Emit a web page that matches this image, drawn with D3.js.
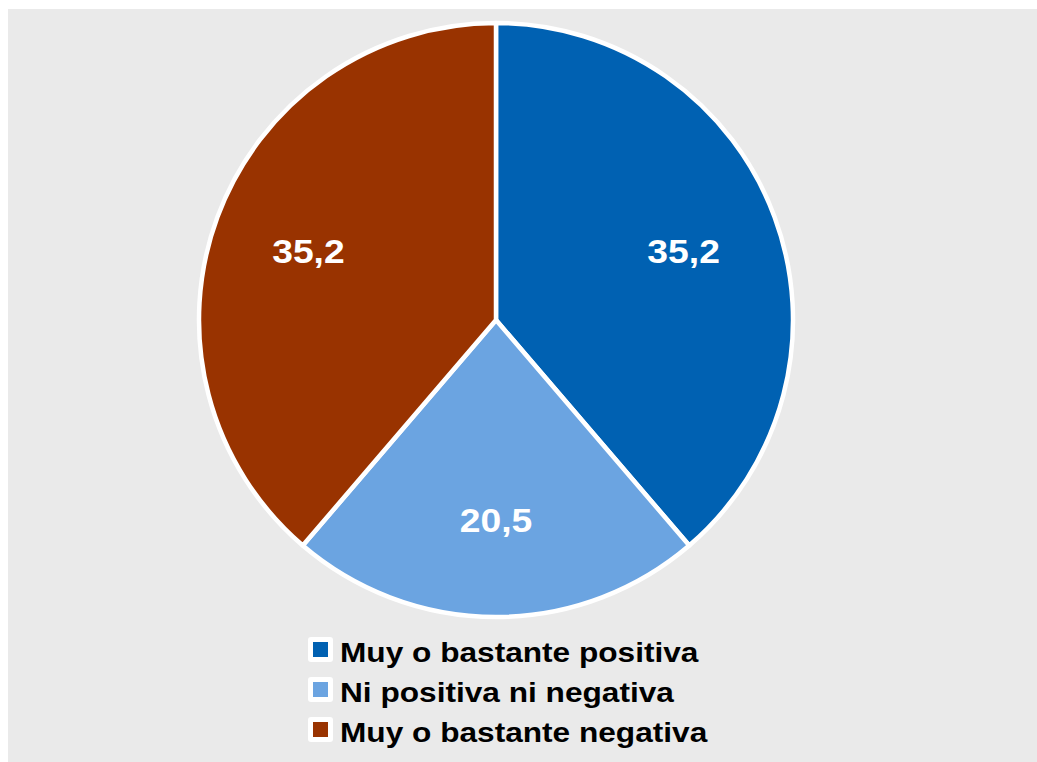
<!DOCTYPE html>
<html>
<head>
<meta charset="utf-8">
<script src="https://cdn.jsdelivr.net/npm/d3@7"></script>
<style>
  body { margin: 0; background: #ffffff; }
  svg { display: block; }
</style>
</head>
<body>
<svg id="chart" width="1037" height="762"></svg>
<script>
var categories = ["Muy o bastante positiva", "Ni positiva ni negativa", "Muy o bastante negativa"];
var values = [35.2, 20.5, 35.2];
var labels = ["35,2", "20,5", "35,2"];
var colors = ["#0061b2", "#6ba4e1", "#993300"];

var width = 1037, height = 762;
var cx = 496, cy = 320, radius = 297;
var stretch = 1.13; // the original text is drawn wider than Liberation Sans

var svg = d3.select("#chart");

// gray panel
svg.append("rect")
	.attr("x", 8)
	.attr("y", 9)
	.attr("width", width - 8)
	.attr("height", height - 9)
	.attr("fill", "#eaeaea");

var color = d3.scaleOrdinal()
	.domain(categories)
	.range(colors);

var pie = d3.pie()
	.sort(null)
	.value(function(d) { return d.value; });

var data = categories.map(function(c, i) {
	return {name: c, value: values[i], label: labels[i]};
});

var arc = d3.arc()
	.innerRadius(0)
	.outerRadius(radius);

var labelArc = d3.arc()
	.innerRadius(200)
	.outerRadius(200);

var g = svg.append("g")
	.attr("transform", "translate(" + cx + "," + cy + ")");

g.selectAll(".slice")
	.data(pie(data))
	.enter()
	.append("path")
	.attr("class", "slice")
	.attr("d", arc)
	.attr("fill", function(d) { return color(d.data.name); })
	.attr("stroke", "#ffffff")
	.attr("stroke-width", 4.5)
	.attr("stroke-linejoin", "round");

g.selectAll(".lbl")
	.data(pie(data))
	.enter()
	.append("text")
	.attr("class", "lbl")
	.attr("transform", function(d) {
		var c = labelArc.centroid(d);
		return "translate(" + c[0] + "," + c[1] + ") scale(" + stretch + ",1)";
	})
	.attr("text-anchor", "middle")
	.attr("dy", "0.36em")
	.attr("fill", "#ffffff")
	.style("font-family", "'Liberation Sans', Arial, sans-serif")
	.style("font-weight", "bold")
	.style("font-size", "33px")
	.text(function(d) { return d.data.label; });

// legend
var legend = svg.append("g")
	.attr("transform", "translate(308, 637)");

var row = legend.selectAll(".row")
	.data(categories)
	.enter()
	.append("g")
	.attr("class", "row")
	.attr("transform", function(d, i) { return "translate(0," + (i * 40) + ")"; });

row.append("rect")
	.attr("width", 25)
	.attr("height", 25)
	.attr("rx", 3)
	.attr("fill", "#ffffff");

row.append("rect")
	.attr("x", 5)
	.attr("y", 5)
	.attr("width", 15)
	.attr("height", 15)
	.attr("fill", function(d) { return color(d); });

row.append("text")
	.attr("transform", "translate(32,25) scale(" + stretch + ",1)")
	.attr("fill", "#000000")
	.style("font-family", "'Liberation Sans', Arial, sans-serif")
	.style("font-weight", "bold")
	.style("font-size", "28px")
	.text(function(d) { return d; });
</script>
</body>
</html>
